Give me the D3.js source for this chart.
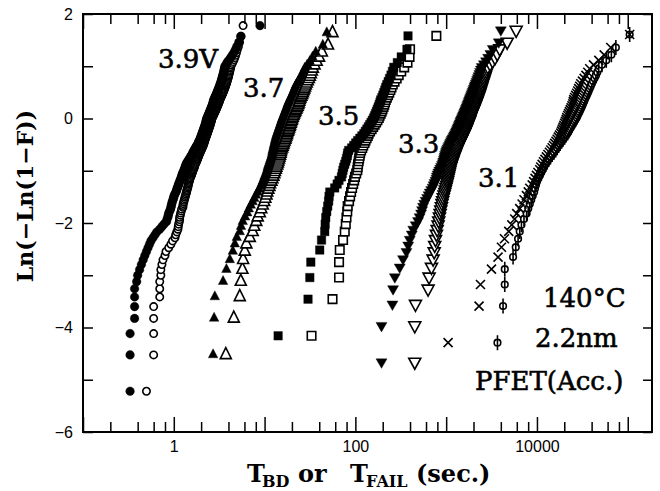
<!DOCTYPE html>
<html>
<head>
<meta charset="utf-8">
<script src="https://cdn.jsdelivr.net/npm/d3@7"></script>
<style>
  body { margin: 0; background: #fff; }
  text { fill: #000; }
</style>
</head>
<body>
<div id="chart"></div>
<script>
// breakdown / failure times in seconds, sorted; one array per stress voltage
// filled symbols = T_BD, open symbols = T_FAIL
const tbd39 = [0.33,0.33,0.33,0.37,0.37,0.37,0.37,0.39,0.40,0.42,0.44,0.46,0.48,0.50,0.52,0.54,0.56,0.59,0.62,0.65,0.70,0.74,0.78,0.83,
  0.84,0.86,0.87,0.88,0.90,0.92,0.93,0.94,0.95,0.96,0.975,0.99,1.0,1.01,1.03,1.05,1.07,
  1.08,1.09,1.11,1.12,1.13,1.15,1.16,1.18,1.19,1.21,1.22,1.23,1.24,1.26,1.27,1.29,1.30,1.32,1.33,1.34,1.36,1.37,1.38,
  1.40,1.43,1.45,1.47,1.49,1.52,1.54,1.56,1.59,1.61,1.62,1.64,1.66,1.68,1.70,1.73,1.75,1.77,1.79,1.82,1.84,1.86,1.88,1.89,1.91,1.94,
  1.95,1.97,1.98,2.0,2.01,2.03,2.04,2.06,2.07,2.09,2.10,2.12,2.13,2.15,2.16,2.18,2.19,2.21,2.22,2.24,2.25,2.26,2.27,2.28,2.29,2.30,2.31,
  2.33,2.35,2.37,2.39,2.41,2.43,2.45,2.47,2.49,2.51,2.53,2.55,2.57,2.59,2.61,2.63,2.65,2.67,2.69,2.71,2.72,2.73,2.75,2.76,
  2.79,2.82,2.84,2.87,2.90,2.93,2.95,2.98,3.01,3.04,3.07,3.09,3.12,3.15,3.18,3.21,3.23,3.26,3.29,3.32,3.35,3.37,3.40,3.43,3.46,3.49,3.51,3.54,3.57,3.60,3.62,3.64,
  3.74,3.83,3.93,4.09,4.24,4.41,4.58,4.76,4.94,5.20,5.47,8.9];
const tfail39 = [0.50,0.60,0.60,0.60,0.60,0.70,0.70,0.70,0.72,0.72,0.74,0.76,0.80,0.82,0.88,0.93,0.97,1.03,1.05,1.08,1.11,1.12,1.13,1.15,1.16,1.16,1.18,1.19,1.21,1.22,1.26,
  1.26,1.27,1.29,1.30,1.32,1.33,1.35,1.36,1.38,1.39,1.40,1.42,1.43,1.44,1.45,1.46,1.48,1.49,1.50,
  1.52,1.54,1.56,1.57,1.59,1.61,1.62,1.64,1.66,1.68,1.69,1.70,1.72,1.74,1.76,1.78,1.80,1.81,1.83,1.85,1.87,1.88,1.90,1.92,1.94,
  1.96,1.98,2.0,2.02,2.04,2.06,2.08,2.10,2.12,2.13,2.15,2.16,2.17,2.19,2.20,
  2.22,2.23,2.25,2.27,2.28,2.30,2.32,2.33,2.35,2.37,2.38,2.40,2.42,2.43,2.45,2.46,2.48,2.50,2.51,2.53,2.54,2.56,2.57,2.58,2.59,2.61,2.62,
  2.64,2.67,2.69,2.72,2.74,2.77,2.79,2.82,2.84,2.87,2.89,2.92,2.94,2.97,2.99,3.02,3.04,3.07,3.09,3.12,3.14,3.17,3.19,3.21,
  3.24,3.27,3.30,3.33,3.37,3.40,3.43,3.46,3.50,3.53,3.56,3.59,3.62,3.66,3.69,3.72,3.75,3.79,3.82,3.85,3.88,3.91,3.95,3.98,4.01,4.04,4.08,4.11,4.14,4.17,4.21,4.24,
  4.3,4.4,4.5,4.6,4.7,4.8,4.9,5.0,5.15,5.3,5.5,5.8];

const tbd37 = [2.71,2.78,2.83,3.49,3.8,4.14,4.47,4.70,4.94,5.33,5.5,5.75,6.1,6.45,6.7,7.05,7.4,7.7,8.05,8.4,8.7,9.05,9.3,9.55,
  9.8,10.0,10.3,10.5,10.7,10.8,11.0,11.2,11.4,11.6,11.8,12.0,12.1,
  12.2,12.3,12.5,12.6,12.7,12.9,13.0,13.1,13.3,13.4,13.6,
  13.8,14.0,14.2,14.4,14.6,14.8,15.0,15.2,15.4,15.6,15.9,
  16.1,16.4,16.6,16.9,17.1,17.4,17.7,17.9,18.2,18.5,18.9,
  19.3,19.7,20.1,20.5,20.9,21.3,21.7,22.1,22.9,23.6,24.4,25.2,26.0,26.8,27.7,
  29.5,31.5,33.7,36.6,43.8,48.4];
const tfail37 = [3.74,4.58,5.33,5.47,5.7,5.8,6.05,6.3,6.87,7.4,7.7,8.1,8.4,8.85,9.2,9.55,9.9,10.2,10.5,10.7,11.0,11.3,11.5,11.9,
  12.2,12.5,12.8,13.0,13.3,13.5,13.8,14.0,14.2,14.4,14.6,14.8,15.0,15.1,
  15.3,15.6,15.8,16.1,16.3,16.6,16.9,17.1,17.4,17.6,
  17.8,18.1,18.4,18.6,18.9,19.1,19.4,19.6,19.9,20.1,20.4,
  20.8,21.1,21.5,21.9,22.3,22.7,23.1,23.5,23.8,24.1,24.4,
  24.9,25.4,25.9,26.4,26.9,27.4,27.9,28.4,29.1,29.9,30.7,31.5,32.3,33.1,34.0,
  35.5,37.5,39.8,42.7,50,56];

const tbd35 = [14.1,30.1,31.5,32.3,40.5,42.4,46.0,46.5,47.2,48.4,49.6,50.8,51.3,52.3,59.2,63,66,70.3,71.6,73,74.3,76.4,78.4,80,81.4,82.3,84.5,
  91,96,101,106,112,118,124,129,134,139,144,149,154,159,
  163,167,171,175,179,183,187,190,196,201,206,211,216,222,
  230,238,247,256,265,290,320,370,380];
const tfail35 = [32.9,56.0,66.1,66.1,67.3,73.2,76.4,78.4,79.8,81.4,82.3,85.2,87.5,89.7,92,94.5,97,99,102,105,106,107,108.7,110,111.5,112.8,115.5,
  119,122,126,129,133,137,140,145,151,157,163,169,175,181,
  185,190,195,199,204,208,212,216,222,229,236,243,250,258,
  270,285,300,320,345,375,395,400,780];

const tbd33 = [194,194,256,260,272,308,335,365,382,397,418,434,462,490,510,529,543,556,573,594,617,640,659,684,709,727,745,763,782,
  790,805,820,840,860,880,900,918,930,945,955,965,975,990,1000,1015,
  1035,1055,1075,1095,1115,1135,1155,1180,1205,1230,1250,1276,
  1295,1315,1335,1355,1375,1395,1415,1435,1455,1475,1500,1523,
  1545,1567,1590,1612,1635,1658,1681,1705,1728,1751,1774,1797,1820,
  1848,1876,1904,1932,1960,1990,2020,2050,2085,2118,
  2155,2195,2235,2275,2320,2365,2415,2467,2600,2750,2900,3070,3260,3800,4000];
const tfail33 = [451,451,459,632,648,689,718,738,748,763,782,796,815,828,843,858,872,887,
  900,915,930,948,965,980,995,1010,1025,1037,1050,1062,1074,1086,1099,1111,1124,
  1140,1158,1176,1194,1212,1232,1252,1270,1290,1308,
  1330,1352,1375,1400,1425,1450,1475,1500,1525,1550,1575,1602,
  1625,1648,1670,1692,1715,1738,1761,1785,1808,1830,1848,1866,
  1893,1920,1947,1975,2003,2031,2059,2087,2115,2143,2171,2200,2229,
  2258,2287,2316,2345,2375,2405,2435,2466,2497,2529,
  2570,2612,2655,2698,2741,2784,2827,2871,3050,3250,3450,3650,3890,4700,5900];

const tbd31 = [1050,2303,2387,3155,3729,4064,4390,4890,5290,5690,5990,6460,6860,7200,7660,8020,8330,8860,9190,9530,9880,10250,10740,
  11000,11400,11800,12250,12700,13200,13700,14200,
  14700,15200,15700,16200,16700,17200,17700,18300,
  18650,19000,19400,19800,20200,20600,21000,21300,
  21800,22300,22800,23300,23800,24300,24800,25100,25400,
  26000,26700,27400,28100,28800,29600,30400,
  31700,33100,34600,36300,38100,42000,48000,55000,65000,105000];
const tfail31 = [3673,4232,4420,4420,5455,5842,6195,6460,6750,7200,7690,8020,8330,8650,8970,9310,9530,9770,10000,10370,10750,11150,11560,11990,12430,
  12900,13500,14100,14700,15400,16100,
  16700,17300,18000,18700,19400,20200,21000,21800,
  22400,23000,23700,24400,25100,25800,26600,27400,
  28000,28700,29400,30100,30800,31500,32200,32900,33600,
  34400,35300,36200,37100,38100,39100,40100,
  41500,43000,44600,46200,47900,52000,58000,66000,74000,105000];

const xMajorTicks = [0.1, 1, 10, 100, 1000, 10000, 100000];
const xTickLabels = { 1: "1", 100: "100", 10000: "10000" };
const yTicks = [-6, -5, -4, -3, -2, -1, 0, 1, 2];

const width = 660;
const height = 491;
const plot = { left: 83, right: 652, top: 14, bottom: 432 };

const svg = d3.select("#chart")
  .append("svg")
  .attr("width", width)
  .attr("height", height);

const x = d3.scaleLog().domain([0.1, 1.85e5]).range([plot.left, plot.right]);
const y = d3.scaleLinear().domain([-6, 2]).range([plot.bottom, plot.top]);

// marker outlines, centred on 0,0
function circlePath(r) {
  return `M${r},0A${r},${r} 0 1,1 ${-r},0A${r},${r} 0 1,1 ${r},0Z`;
}
function triUpPath(w, h) {
  return `M0,${-h * 0.6}L${w / 2},${h * 0.4}L${-w / 2},${h * 0.4}Z`;
}
function triDownPath(w, h) {
  return `M0,${h * 0.6}L${w / 2},${-h * 0.4}L${-w / 2},${-h * 0.4}Z`;
}
function squarePath(s) {
  return `M${-s / 2},${-s / 2}h${s}v${s}h${-s}Z`;
}
function crossPath(a) {
  return `M${-a},${-a}L${a},${a}M${-a},${a}L${a},${-a}`;
}
function phiPath(r, l) {
  return circlePath(r) + `M0,${-l}V${l}`;
}

const series = [
  { t: tfail39, path: circlePath(3.7), open: true },
  { t: tbd39, path: circlePath(4.3), open: false },
  { t: tfail37, path: triUpPath(11, 11), open: true },
  { t: tbd37, path: triUpPath(9.5, 9), open: false },
  { t: tfail35, path: squarePath(8.5), open: true },
  { t: tbd35, path: squarePath(8.5), open: false },
  { t: tfail33, path: triDownPath(12, 11), open: true },
  { t: tbd33, path: triDownPath(11, 9.5), open: false },
  { t: tfail31, path: phiPath(3.3, 7.5), open: true },
  { t: tbd31, path: crossPath(4.5), open: false, line: true }
];

// Weibull plotting position ln(-ln(1-F)), F = i/(n+0.5)
function weibull(i, n) {
  const F = (i + 1) / (n + 0.5);
  return Math.log(-Math.log(1 - F));
}

const marks = svg.append("g");
series.forEach(s => {
  const pts = s.t.map((t, i) => ({ t, w: weibull(i, s.t.length) }));
  marks.append("g")
    .selectAll("path")
    .data(pts)
    .enter()
    .append("path")
    .attr("transform", d => `translate(${x(d.t)},${y(d.w)})`)
    .attr("d", s.path)
    .attr("fill", s.line ? "none" : (s.open ? "#fff" : "#000"))
    .attr("stroke", "#000")
    .attr("stroke-width", s.open || s.line ? 1.6 : 0.4);
});

// axes
const xMinorTicks = [];
xMajorTicks.forEach(d => {
  [2, 4, 6, 8].forEach(m => {
    if (d * m < 1.85e5) xMinorTicks.push(d * m);
  });
});

function styleAxis(g) {
  g.select(".domain").remove();
  g.selectAll(".tick line").attr("stroke", "#000").attr("stroke-width", 1.5);
}

svg.append("g")
  .attr("transform", `translate(0,${plot.bottom})`)
  .call(d3.axisBottom(x).tickValues(xMajorTicks).tickSizeInner(-15).tickSizeOuter(0).tickPadding(9)
    .tickFormat(d => xTickLabels[Math.round(d)] || ""))
  .call(styleAxis)
  .selectAll("text")
  .style("font-family", "'Liberation Sans', Arial, sans-serif")
  .style("font-size", "16px");

svg.append("g")
  .attr("transform", `translate(0,${plot.bottom})`)
  .call(d3.axisBottom(x).tickValues(xMinorTicks).tickSizeInner(-10).tickSizeOuter(0).tickFormat(""))
  .call(styleAxis);

svg.append("g")
  .attr("transform", `translate(0,${plot.top})`)
  .call(d3.axisTop(x).tickValues(xMajorTicks).tickSizeInner(-15).tickSizeOuter(0).tickFormat(""))
  .call(styleAxis);

svg.append("g")
  .attr("transform", `translate(0,${plot.top})`)
  .call(d3.axisTop(x).tickValues(xMinorTicks).tickSizeInner(-10).tickSizeOuter(0).tickFormat(""))
  .call(styleAxis);

svg.append("g")
  .attr("transform", `translate(${plot.left},0)`)
  .call(d3.axisLeft(y).tickValues(yTicks).tickSizeInner(-10).tickSizeOuter(0).tickPadding(10)
    .tickFormat(d => d % 2 === 0 ? d3.format("d")(d) : ""))
  .call(styleAxis)
  .selectAll("text")
  .style("font-family", "'Liberation Sans', Arial, sans-serif")
  .style("font-size", "16px");

svg.append("g")
  .attr("transform", `translate(${plot.right},0)`)
  .call(d3.axisRight(y).tickValues(yTicks).tickSizeInner(-9).tickSizeOuter(0).tickFormat(""))
  .call(styleAxis);

svg.append("rect")
  .attr("x", plot.left)
  .attr("y", plot.top)
  .attr("width", plot.right - plot.left)
  .attr("height", plot.bottom - plot.top)
  .attr("fill", "none")
  .attr("stroke", "#000")
  .attr("stroke-width", 2);

// axis titles
svg.append("text")
  .attr("transform", "translate(33,196) rotate(-90)")
  .attr("text-anchor", "middle")
  .style("font-family", "'DejaVu Serif', serif")
  .style("font-weight", "bold")
  .style("font-size", "22px")
  .text("Ln(\u2212Ln(1\u2212F))");

const xt = svg.append("text")
  .attr("y", 482)
  .style("font-family", "'DejaVu Serif', serif")
  .style("font-weight", "bold")
  .style("font-size", "24px");
xt.append("tspan").attr("x", 247).text("T");
xt.append("tspan").attr("x", 262).attr("dy", 5).style("font-size", "16px").text("BD");
xt.append("tspan").attr("x", 298).attr("dy", -5).text("or");
xt.append("tspan").attr("x", 350).text("T");
xt.append("tspan").attr("x", 366).attr("dy", 5).style("font-size", "16px").text("FAIL");
xt.append("tspan").attr("x", 416).attr("dy", -5).text("(sec.)");

// annotations
const notes = [
  { text: "3.9V", x: 158, y: 68 },
  { text: "3.7", x: 243, y: 97 },
  { text: "3.5", x: 318, y: 125 },
  { text: "3.3", x: 398, y: 153 },
  { text: "3.1", x: 478, y: 187 },
  { text: "140\u00B0C", x: 543, y: 307 },
  { text: "2.2nm", x: 535, y: 347 },
  { text: "PFET(Acc.)", x: 475, y: 390 }
];
svg.append("g")
  .selectAll("text")
  .data(notes)
  .enter()
  .append("text")
  .attr("x", d => d.x)
  .attr("y", d => d.y)
  .style("font-family", "'DejaVu Serif', serif")
  .style("font-size", "26px")
  .style("stroke", "#000")
  .style("stroke-width", "0.6px")
  .text(d => d.text);
</script>
</body>
</html>
